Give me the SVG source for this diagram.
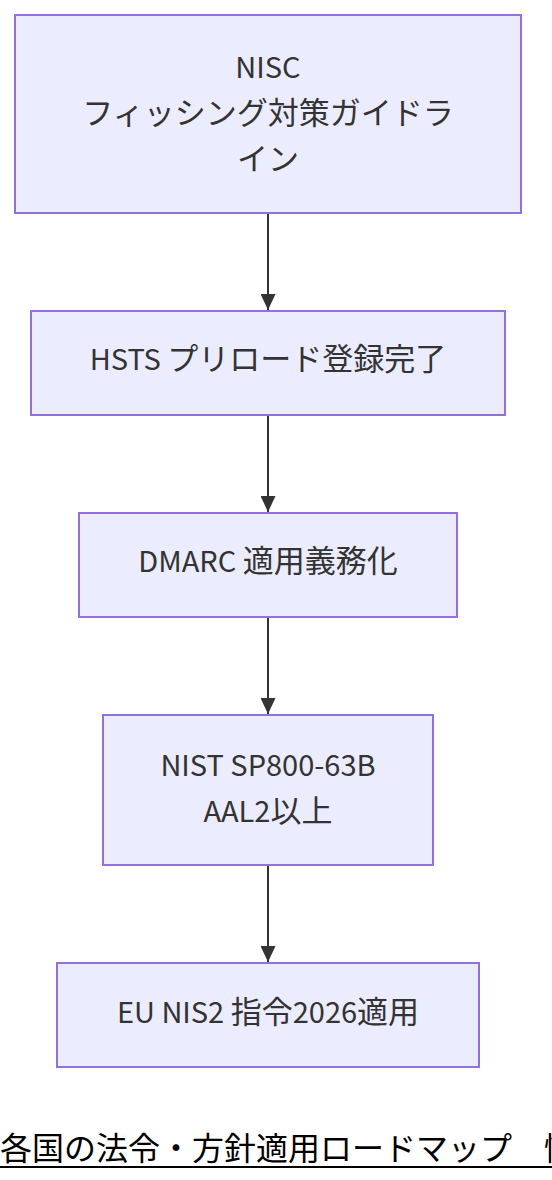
<svg xmlns="http://www.w3.org/2000/svg" width="552" height="1180" viewBox="0 0 552 1180">
<defs>
<style>
.node rect{fill:#ECECFF;stroke:#9370DB;stroke-width:2}
.node text{font-family:"Noto Sans CJK JP",sans-serif;font-size:31px;fill:#333;text-anchor:middle}
.node .l{font-size:29px}
.edge{stroke:#333;stroke-width:2;fill:none}
.title{font-family:"Noto Sans CJK JP",sans-serif;font-size:32px;fill:#000}
</style>
<marker id="arrow" viewBox="0 0 16 15" refX="16" refY="7.5" markerWidth="16" markerHeight="15" markerUnits="userSpaceOnUse" orient="auto">
<path d="M0,0 L16,7.5 L0,15 z" fill="#333"/>
</marker>
</defs>
<rect width="552" height="1180" fill="#fff"/>
<g id="edges">
<path class="edge" d="M268,214 V310" marker-end="url(#arrow)"/>
<path class="edge" d="M268,416 V512" marker-end="url(#arrow)"/>
<path class="edge" d="M268,618 V714" marker-end="url(#arrow)"/>
<path class="edge" d="M268,866 V962" marker-end="url(#arrow)"/>
</g>
<g id="n1" class="node">
<rect x="15" y="15" width="506" height="198"/>
<text x="268" y="78"><tspan class="l">NISC</tspan></text>
<text x="268" y="124">フィッシング対策ガイドラ</text>
<text x="268" y="170">イン</text>
</g>
<g id="n2" class="node">
<rect x="31" y="311" width="474" height="104"/>
<text x="268" y="370"><tspan class="l">HSTS </tspan>プリロード登録完了</text>
</g>
<g id="n3" class="node">
<rect x="79" y="513" width="378" height="104"/>
<text x="268" y="572"><tspan class="l">DMARC </tspan>適用義務化</text>
</g>
<g id="n4" class="node">
<rect x="103" y="715" width="330" height="150"/>
<text x="268" y="776"><tspan class="l">NIST SP800-63B</tspan></text>
<text x="268" y="822"><tspan class="l">AAL2</tspan>以上</text>
</g>
<g id="n5" class="node">
<rect x="57" y="963" width="422" height="104"/>
<text x="268" y="1023"><tspan class="l">EU NIS2 </tspan>指令<tspan class="l">2026</tspan>適用</text>
</g>
<g id="title">
<text class="title" x="0" y="1160">各国の法令・方針適用ロードマップ　情</text>
<line x1="0" y1="1167" x2="552" y2="1167" stroke="#000" stroke-width="2"/>
</g>
</svg>
